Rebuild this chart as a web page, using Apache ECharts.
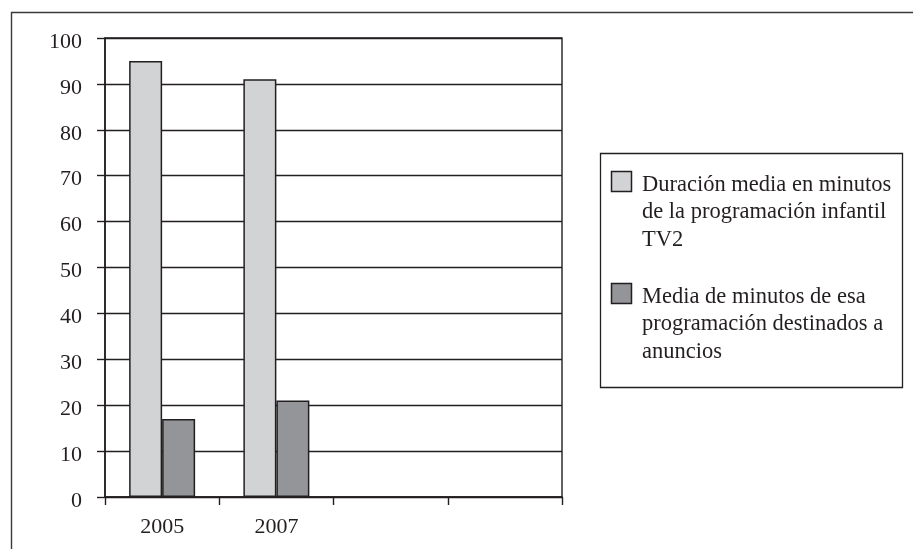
<!DOCTYPE html>
<html>
<head>
<meta charset="utf-8">
<script src="https://cdn.jsdelivr.net/npm/echarts@6/dist/echarts.min.js"></script>
<style>
  html, body { margin: 0; padding: 0; background: #ffffff; }
  #chart { width: 913px; height: 549px; }
</style>
</head>
<body>
<div id="chart"></div>
<script>
// Years shown on the horizontal axis (the last two slots are left empty)
const categories = ['2005', '2007', '', ''];

// Series names (wrapped as they appear in the key)
const seriesNames = [
  'Duración media en minutos\nde la programación infantil\nTV2',
  'Media de minutos de esa\nprogramación destinados a\nanuncios'
];

// Average duration of children's programming (minutes)
const durationValues = [95, 91, null, null];
// Average minutes of that programming used for advertising
const adValues = [17, 21, null, null];

// Vertical axis range
const yMin = 0;
const yMax = 100;
const yStep = 10;

const INK = '#231f20';
const FONT = "'Liberation Serif', 'Times New Roman', serif";
const fills = ['#d1d3d4', '#939598'];

const chart = echarts.init(document.getElementById('chart'), null, { renderer: 'canvas' });

// Key drawn to the right of the plot: a framed box with a swatch per series
const keyLeft = 600, keyTop = 153, keyWidth = 302, keyHeight = 234;
const keyEntries = [
  { swatchY: 171, textY: 171 },
  { swatchY: 283, textY: 283 }
];
const keyGraphics = [
  {
    type: 'rect',
    shape: { x: keyLeft + 0.5, y: keyTop + 0.5, width: keyWidth, height: keyHeight },
    style: { fill: '#ffffff', stroke: INK, lineWidth: 1.3 },
    z: 10
  }
];
seriesNames.forEach((name, i) => {
  keyGraphics.push({
    type: 'rect',
    shape: { x: 611.5, y: keyEntries[i].swatchY + 0.5, width: 20, height: 20 },
    style: { fill: fills[i], stroke: INK, lineWidth: 1.5 },
    z: 11
  });
  keyGraphics.push({
    type: 'text',
    x: 642,
    y: keyEntries[i].textY,
    style: {
      text: name,
      font: '22.5px ' + FONT,
      fill: INK,
      lineHeight: 27.5,
      verticalAlign: 'top',
      align: 'left'
    },
    z: 11
  });
});

const option = {
  backgroundColor: '#ffffff',
  animation: false,
  textStyle: { fontFamily: FONT, color: INK },
  grid: {
    left: 105,
    right: 351,
    top: 38,
    bottom: 52,
    show: true,
    borderColor: INK,
    borderWidth: 1.4,
    backgroundColor: 'transparent'
  },
  xAxis: {
    type: 'category',
    data: categories,
    axisLine: { show: true, lineStyle: { color: INK, width: 1.6 } },
    axisTick: { show: true, alignWithLabel: false, length: 8, lineStyle: { color: INK, width: 1.4 } },
    axisLabel: { color: INK, fontFamily: FONT, fontSize: 22, margin: 19 },
    splitLine: { show: false }
  },
  yAxis: {
    type: 'value',
    min: yMin,
    max: yMax,
    interval: yStep,
    axisLine: { show: true, lineStyle: { color: INK, width: 1.6 } },
    axisTick: { show: true, length: 8, lineStyle: { color: INK, width: 1.4 } },
    axisLabel: {
      color: INK, fontFamily: FONT, fontSize: 22, margin: 23,
      formatter: '{v|{value}}',
      rich: {
        v: { color: INK, fontFamily: FONT, fontSize: 22, lineHeight: 30, verticalAlign: 'bottom' }
      }
    },
    splitLine: { show: true, lineStyle: { color: INK, width: 1.4 } }
  },
  series: [
    {
      name: seriesNames[0],
      type: 'bar',
      data: durationValues,
      barWidth: 33,
      barGap: '0%',
      itemStyle: { color: fills[0], borderColor: INK, borderWidth: 1.5 },
      z: 3
    },
    {
      name: seriesNames[1],
      type: 'bar',
      data: adValues,
      barWidth: 33,
      barGap: '0%',
      itemStyle: { color: fills[1], borderColor: INK, borderWidth: 1.5 },
      z: 3
    }
  ],
  graphic: [
    // Outer frame around the whole figure, running off the right and bottom edges
    {
      type: 'rect',
      shape: { x: 11.5, y: 12.5, width: 1000, height: 1000 },
      style: { fill: 'none', stroke: '#3a3a3a', lineWidth: 1.4 },
      z: 1
    }
  ].concat(keyGraphics)
};

chart.setOption(option);
</script>
</body>
</html>
